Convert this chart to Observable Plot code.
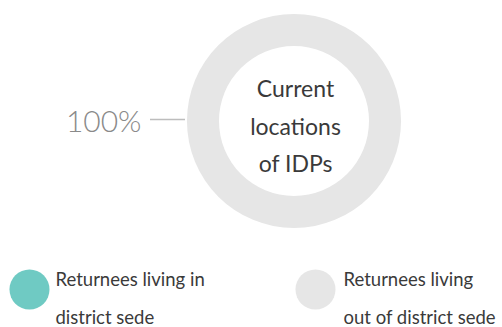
<!DOCTYPE html>
<html>
<head>
<meta charset="utf-8">
<script src="https://cdn.jsdelivr.net/npm/d3@7"></script>
<script src="https://cdn.jsdelivr.net/npm/@observablehq/plot@0.6"></script>
<style>
  html, body { margin: 0; padding: 0; background: #fff; }
  svg { display: block; }
</style>
</head>
<body>
<div id="chart"></div>
<script>
// ---- data ----
const categories = ["Returnees living in district sede", "Returnees living out of district sede"];
const legendLabels = ["Returnees living in\ndistrict sede", "Returnees living\nout of district sede"];
const shares = [0, 100];
const colors = ["#6fcac3", "#e6e6e6"];
const centerLabel = "Current\nlocations\nof IDPs";

// ---- layout constants ----
const W = 502, H = 327;
const CX = 294, CY = 121, R_OUT = 107, R_IN = 75;
const FONT = "Lato, 'Open Sans', sans-serif";

const slices = categories.map((c, i) => ({category: c, share: shares[i], legend: legendLabels[i], idx: i}));
const shown = slices.filter(d => d.share > 0);

const chart = Plot.plot({
  width: W,
  height: H,
  margin: 0,
  style: {fontFamily: FONT, background: "#fff"},
  x: {domain: [0, W], range: [0, W], axis: null},
  y: {domain: [0, H], range: [0, H], axis: null},
  color: {domain: categories, range: colors},
  marks: [
    // donut ring built with d3.pie + d3.arc through Plot's scales
    Plot.dot([{x: CX, y: CY}], {
      x: "x", y: "y",
      render: (index, scales, values, dims, context) => {
        const cx = scales.x(CX), cy = scales.y(CY);
        const pie = d3.pie().sort(null).value(d => d.share)(slices);
        const arc = d3.arc().innerRadius(R_IN).outerRadius(R_OUT);
        const g = d3.create("svg:g").attr("transform", `translate(${cx},${cy})`);
        g.selectAll("path").data(pie.filter(p => p.data.share > 0)).join("path")
          .attr("d", arc)
          .attr("fill", p => scales.color(p.data.category));
        return g.node();
      }
    }),
    // leader line for share label
    Plot.ruleY(shown, {y: () => CY - 2, x1: () => CX - R_OUT - 37, x2: () => CX - R_OUT - 2, stroke: "#bdbdbd", strokeWidth: 1.5}),
    Plot.text(shown, {
      x: () => CX - R_OUT - 46, y: () => CY + 1,
      text: d => `${d.share}%`,
      textAnchor: "end", lineAnchor: "middle",
      fontSize: 30, fill: "#8a8a8a", fontWeight: 300
    }),
    // center label
    Plot.text([centerLabel], {
      x: () => CX + 1, y: () => CY + 1,
      text: d => d,
      textAnchor: "middle", lineAnchor: "middle",
      fontSize: 23, lineHeight: 1.63, fill: "#3a3a3a", fontWeight: 400
    }),
    // legend swatches
    Plot.dot(slices, {
      x: d => 29 + d.idx * 286, y: () => 289,
      r: () => 20, fill: "category", stroke: null
    }),
    Plot.text(slices, {
      x: d => 55 + d.idx * 288, y: () => 292,
      text: "legend",
      textAnchor: "start", lineAnchor: "middle",
      fontSize: 18.5, lineHeight: 2.05, fill: "#3a3a3a", fontWeight: 400
    })
  ]
});
chart.querySelectorAll("circle").forEach(c => c.setAttribute("r", 20));
document.getElementById("chart").append(chart);
</script>
</body>
</html>
